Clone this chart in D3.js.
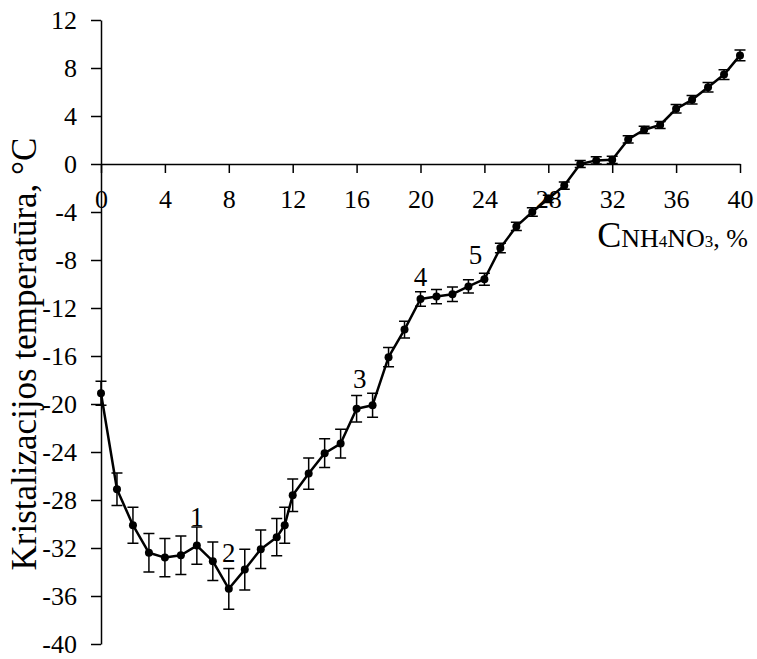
<!DOCTYPE html>
<html>
<head>
<meta charset="utf-8">
<script src="https://cdn.jsdelivr.net/npm/d3@7"></script>
<style>
  body { margin: 0; background: #fff; }
  svg text { font-family: "Liberation Serif", "Times New Roman", serif; }
</style>
</head>
<body>
<div id="chart"></div>
<script>
// concentration of NH4NO3, %
var conc = [0, 1, 2, 3, 4, 5, 6, 7, 8, 9, 10, 11, 11.5, 12, 13, 14, 15, 16, 17, 18, 19, 20,
            21, 22, 23, 24, 25, 26, 27, 28, 29, 30, 31, 32, 33, 34, 35, 36, 37, 38, 39, 40];
// crystallization temperature, C
var temp = [-19.1, -27.1, -30.1, -32.4, -32.8, -32.6, -31.8, -33.1, -35.4, -33.8, -32.1, -31.1, -30.1,
            -27.6, -25.8, -24.1, -23.3, -20.4, -20.1, -16.1, -13.8, -11.25, -11.05, -10.85, -10.2, -9.6,
            -7.0, -5.2, -4.0, -2.9, -1.8, 0, 0.3, 0.35, 2.05, 2.85, 3.25, 4.6, 5.35, 6.4, 7.45, 9.05];
// error bar half-widths
var err = [1.0, 1.35, 1.5, 1.6, 1.6, 1.6, 1.55, 1.6, 1.7, 1.7, 1.6, 1.55, 1.5, 1.35, 1.3, 1.2, 1.2,
           1.1, 1.0, 0.8, 0.7, 0.6, 0.6, 0.6, 0.55, 0.5, 0.4, 0.35, 0.35, 0.3, 0.3, 0.3, 0.3, 0.3,
           0.3, 0.3, 0.3, 0.35, 0.35, 0.4, 0.4, 0.45];
var xTicks = [0, 4, 8, 12, 16, 20, 24, 28, 32, 36, 40];
var yTicks = [12, 8, 4, 0, -4, -8, -12, -16, -20, -24, -28, -32, -36, -40];
// numbered annotations on the curve
var notes = [
  {label: "1", x: 6, y: -30.2},
  {label: "2", x: 8, y: -33.2},
  {label: "3", x: 16.2, y: -18.7},
  {label: "4", x: 20, y: -10.2},
  {label: "5", x: 23.45, y: -8.35}
];

var w = 757, h = 659;
var serif = '"Liberation Serif", "Times New Roman", serif';

var data = conc.map(function(c, i) {
  return {x: c, y: temp[i], e: err[i]};
});

var x = d3.scaleLinear().domain([0, 40]).range([101, 740]);
var y = d3.scaleLinear().domain([-40, 12]).range([644, 20]);

var svg = d3.select("#chart")
  .append("svg")
    .attr("width", w)
    .attr("height", h)
    .style("font-family", serif);

// y axis
var yAxis = svg.append("g")
    .attr("transform", "translate(" + x(0) + ",0)")
    .call(d3.axisLeft(y).tickValues(yTicks).tickSize(10).tickSizeOuter(0));
yAxis.attr("font-family", null);
yAxis.select(".domain").attr("stroke-width", 1.5);
yAxis.selectAll(".tick line").attr("stroke-width", 1.5);
yAxis.selectAll(".tick text")
    .attr("x", -24)
    .attr("dy", "0.33em")
    .style("font-family", serif)
    .style("font-size", "26px")
    .attr("fill", "#000")
    .text(function(d) { return d < 0 ? "-" + Math.abs(d) : d; });

// x axis along y = 0
var xAxis = svg.append("g")
    .attr("transform", "translate(0," + y(0) + ")")
    .call(d3.axisBottom(x).tickValues(xTicks).tickSize(9).tickSizeOuter(0));
xAxis.attr("font-family", null);
xAxis.select(".domain").attr("stroke-width", 1.5);
xAxis.selectAll(".tick line").attr("stroke-width", 1.5);
xAxis.selectAll(".tick text")
    .attr("y", 44)
    .attr("dy", 0)
    .style("font-family", serif)
    .style("font-size", "26px")
    .attr("fill", "#000");

// error bars
var bars = svg.append("g").attr("stroke", "#000").attr("stroke-width", 1.5);
bars.selectAll(".eb")
  .data(data)
  .enter()
  .append("path")
    .attr("class", "eb")
    .attr("fill", "none")
    .attr("d", function(d) {
      var cx = x(d.x), t = y(d.y + d.e), b = y(d.y - d.e), k = 5.5;
      return "M" + (cx - k) + "," + t + "H" + (cx + k) +
             "M" + cx + "," + t + "V" + b +
             "M" + (cx - k) + "," + b + "H" + (cx + k);
    });

// curve
var line = d3.line()
  .x(function(d) { return x(d.x); })
  .y(function(d) { return y(d.y); });

svg.append("path")
  .datum(data)
  .attr("fill", "none")
  .attr("stroke", "#000")
  .attr("stroke-width", 2.5)
  .attr("stroke-linejoin", "round")
  .attr("d", line);

svg.selectAll("circle")
  .data(data)
  .enter()
  .append("circle")
    .attr("cx", function(d) { return x(d.x); })
    .attr("cy", function(d) { return y(d.y); })
    .attr("r", 4)
    .attr("fill", "#000");

// annotations
svg.selectAll(".note")
  .data(notes)
  .enter()
  .append("text")
    .attr("class", "note")
    .attr("x", function(d) { return x(d.x); })
    .attr("y", function(d) { return y(d.y); })
    .attr("text-anchor", "middle")
    .style("font-size", "27px")
    .attr("fill", "#000")
    .text(function(d) { return d.label; });

// axis titles
svg.append("text")
  .attr("transform", "translate(36,354) rotate(-90)")
  .attr("text-anchor", "middle")
  .style("font-size", "35px")
  .attr("fill", "#000")
  .text("Kristalizacijos temperatūra, °C");

var xt = svg.append("text")
  .attr("x", 748)
  .attr("y", 247)
  .attr("text-anchor", "end")
  .attr("fill", "#000");
xt.append("tspan").style("font-size", "36px").text("C");
xt.append("tspan").style("font-size", "26px").text("NH");
xt.append("tspan").style("font-size", "17px").text("4");
xt.append("tspan").style("font-size", "26px").text("NO");
xt.append("tspan").style("font-size", "17px").text("3");
xt.append("tspan").style("font-size", "26px").text(", %");
</script>
</body>
</html>
